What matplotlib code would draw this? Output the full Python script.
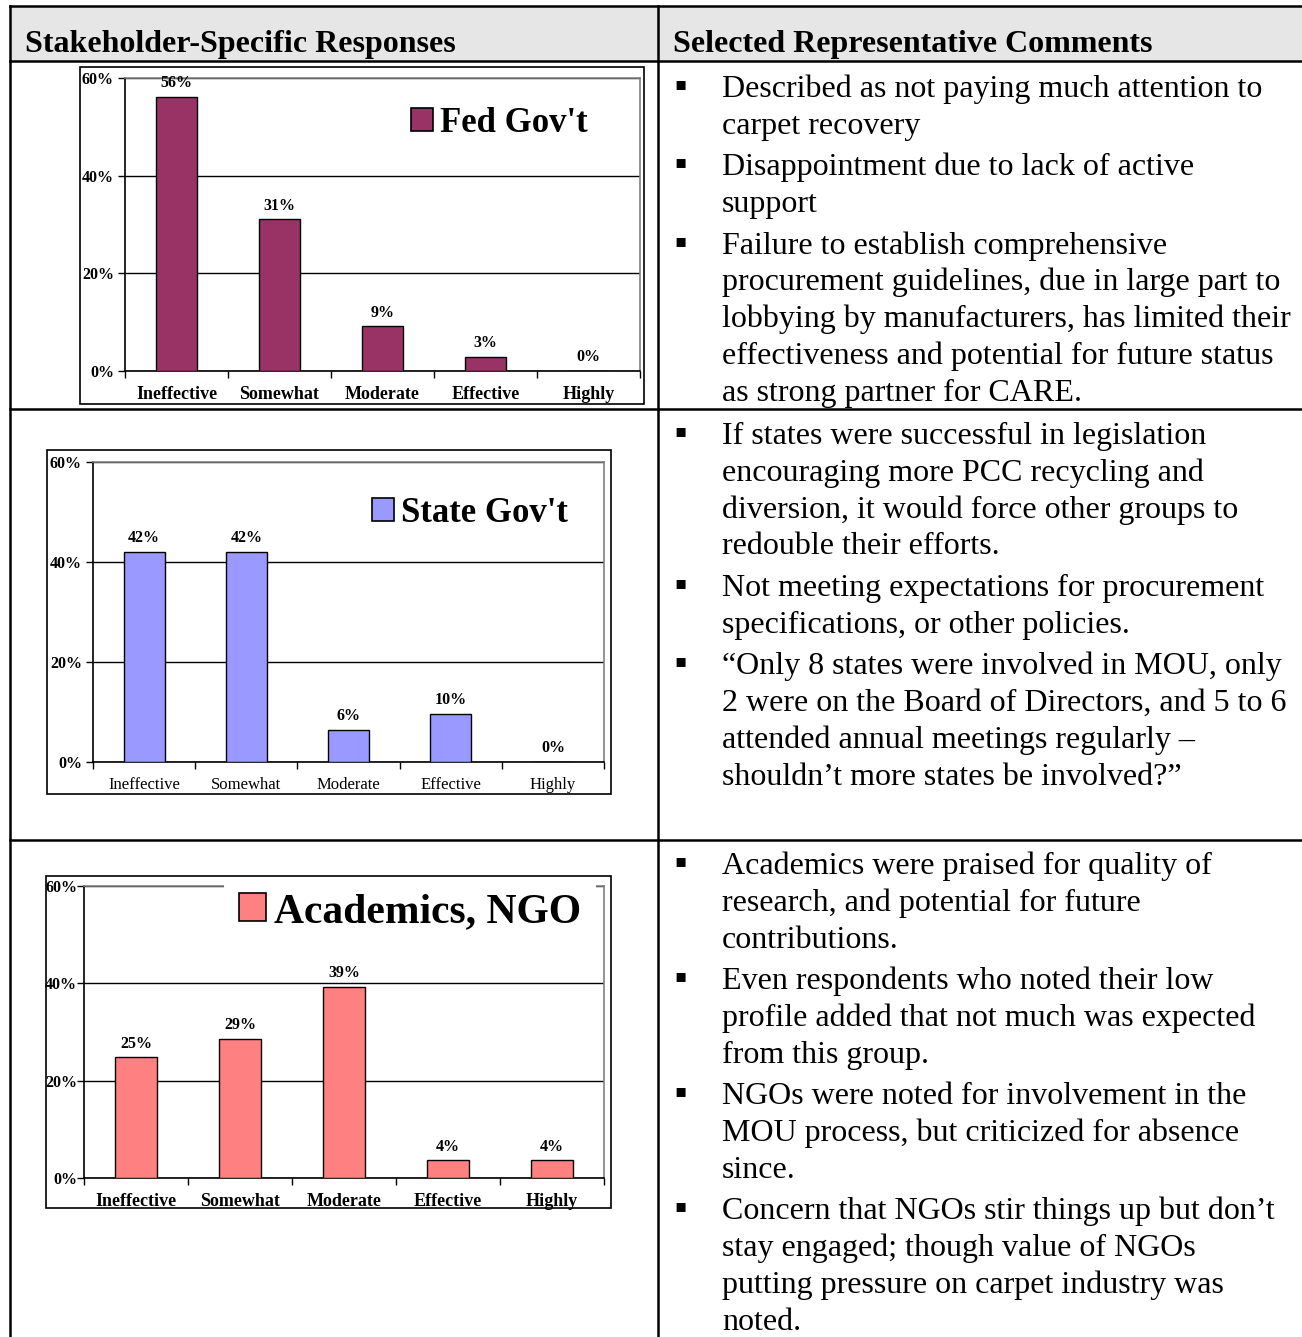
import matplotlib
matplotlib.use('Agg')
import matplotlib.pyplot as plt
from matplotlib.lines import Line2D
from matplotlib.patches import Rectangle, Patch

# data
categories = ['Ineffective', 'Somewhat', 'Moderate', 'Effective', 'Highly']
fed_vals = [56.1, 31.1, 9.2, 2.9, 0.0]
state_vals = [42.0, 42.0, 6.4, 9.6, 0.0]
acad_vals = [24.8, 28.6, 39.3, 3.6, 3.6]
y_ticks = [0, 20, 40, 60]

headers = ['Stakeholder-Specific Responses', 'Selected Representative Comments']

fed_comments = [
    ['Described as not paying much attention to', 'carpet recovery'],
    ['Disappointment due to lack of active', 'support'],
    ['Failure to establish comprehensive',
     'procurement guidelines, due in large part to',
     'lobbying by manufacturers, has limited their',
     'effectiveness and potential for future status',
     'as strong partner for CARE.'],
]
state_comments = [
    ['If states were successful in legislation',
     'encouraging more PCC recycling and',
     'diversion, it would force other groups to',
     'redouble their efforts.'],
    ['Not meeting expectations for procurement',
     'specifications, or other policies.'],
    ['\u201cOnly 8 states were involved in MOU, only',
     '2 were on the Board of Directors, and 5 to 6',
     'attended annual meetings regularly \u2013',
     'shouldn\u2019t more states be involved?\u201d'],
]
acad_comments = [
    ['Academics were praised for quality of',
     'research, and potential for future',
     'contributions.'],
    ['Even respondents who noted their low',
     'profile added that not much was expected',
     'from this group.'],
    ['NGOs were noted for involvement in the',
     'MOU process, but criticized for absence',
     'since.'],
    ['Concern that NGOs stir things up but don\u2019t',
     'stay engaged; though value of NGOs',
     'putting pressure on carpet industry was',
     'noted.'],
]

W, H = 1302, 1337
SERIF = 'Liberation Serif'


def fx(px):
    return px / W


def fy(py):
    return 1 - py / H


fig = plt.figure(figsize=(W / 100, H / 100), dpi=100)
fig.patch.set_facecolor('white')

# table header band
fig.add_artist(Rectangle((fx(10), fy(61)), fx(1302) - fx(10), fy(6) - fy(61),
                         transform=fig.transFigure, facecolor='#e6e6e6',
                         edgecolor='none', zorder=0))


def hline(y, x0, x1, lw=1.8):
    fig.add_artist(Line2D([fx(x0), fx(x1)], [fy(y), fy(y)], transform=fig.transFigure,
                          color='black', lw=lw, zorder=5))


def vline(x, y0, y1, lw=1.8):
    fig.add_artist(Line2D([fx(x), fx(x)], [fy(y0), fy(y1)], transform=fig.transFigure,
                          color='black', lw=lw, zorder=5))


hline(6, 10, 1302)
hline(61, 10, 1302)
hline(409, 10, 1302)
hline(840, 10, 1302)
vline(10, 6, 1337)
vline(658, 6, 1337)

fig.text(fx(25), fy(52), headers[0], fontfamily=SERIF, fontweight='bold',
         fontsize=23, va='baseline', ha='left')
fig.text(fx(673), fy(52), headers[1], fontfamily=SERIF, fontweight='bold',
         fontsize=23, va='baseline', ha='left')


def write_comments(groups, y0, step=36.8, gap=41.5):
    y = y0
    for g in groups:
        fig.text(fx(681), fy(y - 13), '\u25aa', fontfamily='DejaVu Sans', fontsize=13,
                 ha='center', va='center')
        for line in g:
            fig.text(fx(722), fy(y), line, fontfamily=SERIF, fontsize=23,
                     ha='left', va='baseline')
            y += step
        y += gap - step


write_comments(fed_comments, 97)
write_comments(state_comments, 444)
write_comments(acad_comments, 874)


def draw_chart(plot_px, box_px, values, color, name, leg_xy, leg_size,
               xlab_weight='bold', xlab_size=13, leg_bg=False, ypad=3):
    x0, y0, x1, y1 = box_px
    fig.add_artist(Rectangle((fx(x0), fy(y1)), fx(x1) - fx(x0), fy(y0) - fy(y1),
                             transform=fig.transFigure, facecolor='white',
                             edgecolor='black', lw=1.2, zorder=1))
    px0, py0, px1, py1 = plot_px
    ax = fig.add_axes([fx(px0), fy(py1), fx(px1) - fx(px0), fy(py0) - fy(py1)])
    ax.set_zorder(2)
    ax.set_facecolor('white')
    xs = range(len(categories))
    ax.bar(xs, values, width=0.4, color=color, edgecolor='black', linewidth=1.0,
           zorder=3)
    for x, v in zip(xs, values):
        ax.annotate(f'{round(v)}%', (x, v), xytext=(0, 4), textcoords='offset points',
                    ha='center', va='bottom', fontfamily=SERIF, fontweight='bold',
                    fontsize=11.5)
    ax.set_xlim(-0.5, len(categories) - 0.5)
    ax.set_ylim(0, 60)
    ax.set_yticks(y_ticks)
    ax.set_yticklabels([f'{t}%' for t in y_ticks], fontfamily=SERIF,
                       fontweight='bold', fontsize=11.5)
    ax.set_xticks(list(xs))
    ax.set_xticklabels(categories, fontfamily=SERIF, fontweight=xlab_weight,
                       fontsize=xlab_size)
    ax.set_xticks([i - 0.5 for i in range(len(categories) + 1)], minor=True)
    ax.tick_params(axis='x', which='major', length=0, pad=11)
    ax.tick_params(axis='x', which='minor', length=5, width=1, direction='out')
    ax.tick_params(axis='y', length=5, width=1, direction='out', pad=ypad)
    ax.yaxis.grid(True, color='black', lw=1.0)
    ax.set_axisbelow(True)
    for s in ['top', 'right']:
        ax.spines[s].set_color('#808080')
        ax.spines[s].set_linewidth(1.2)
    for s in ['left', 'bottom']:
        ax.spines[s].set_color('black')
        ax.spines[s].set_linewidth(1.2)
    leg = ax.legend([Patch(facecolor=color, edgecolor='black', lw=1.2)], [name],
                    loc='center left', bbox_to_anchor=leg_xy,
                    prop={'family': SERIF, 'weight': 'bold', 'size': leg_size},
                    frameon=leg_bg, handlelength=0.65, handleheight=0.65,
                    handletextpad=0.2, borderpad=0.35 if leg_bg else 0.15,
                    borderaxespad=0)
    if leg_bg:
        leg.get_frame().set_facecolor('white')
        leg.get_frame().set_edgecolor('none')
        leg.get_frame().set_alpha(1)
        leg.set_zorder(10)
    return ax


draw_chart((125, 78, 640, 371), (80, 67, 644, 404), fed_vals, '#993366',
           "Fed Gov't", (0.545, 0.846), 25)
draw_chart((93, 462, 604, 762), (47, 450, 611, 794), state_vals, '#9999ff',
           "State Gov't", (0.535, 0.83), 25, xlab_weight='normal', xlab_size=12)
draw_chart((84, 886, 604, 1178), (46, 876, 611, 1208), acad_vals, '#ff8080',
           'Academics, NGO', (0.27, 0.911), 30, leg_bg=True, ypad=0)

fig.savefig('out.png', dpi=100)
